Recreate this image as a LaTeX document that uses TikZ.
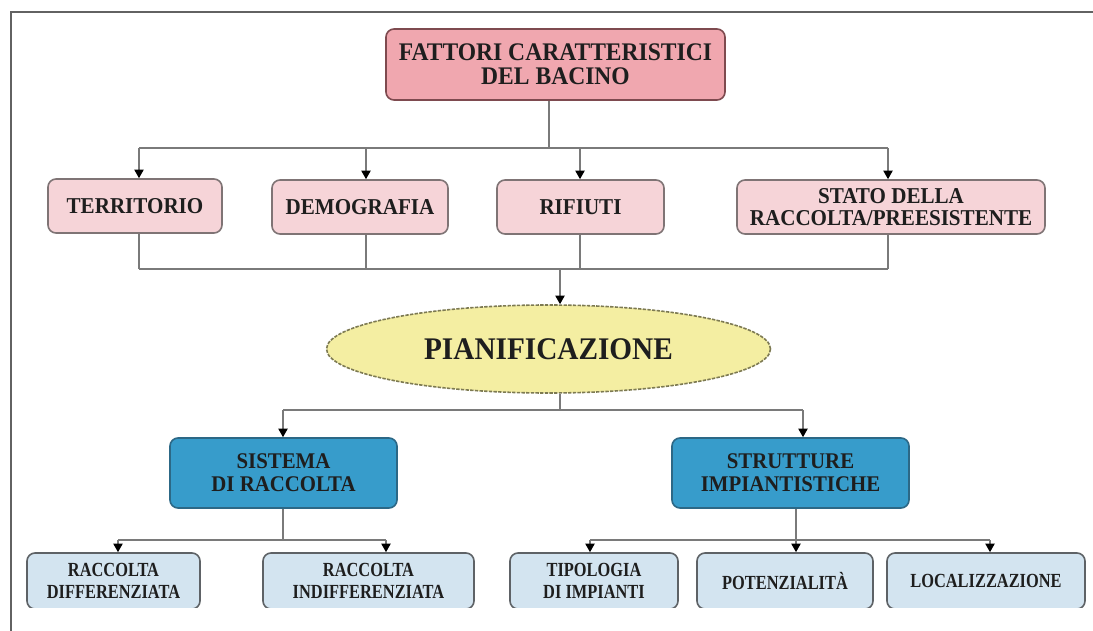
\documentclass[tikz,border=0pt]{standalone}
\usepackage{fontspec}
\setmainfont{Liberation Serif}[FakeStretch=0.93]
\newfontfamily\condfont{Liberation Serif}[FakeStretch=0.82]
\usetikzlibrary{shapes.geometric,arrows.meta}
\definecolor{txt}{HTML}{1E1E1E}
\definecolor{linec}{HTML}{7A7A7A}
\definecolor{topfill}{HTML}{F0A7AF}
\definecolor{topdraw}{HTML}{7E4A4F}
\definecolor{pinkfill}{HTML}{F6D4D8}
\definecolor{pinkdraw}{HTML}{7F7475}
\definecolor{ellfill}{HTML}{F4EEA2}
\definecolor{elldraw}{HTML}{7D7A52}
\definecolor{bluefill}{HTML}{379CCB}
\definecolor{bluedraw}{HTML}{2C6886}
\definecolor{lbfill}{HTML}{D3E4F0}
\definecolor{lbdraw}{HTML}{5E6266}
\tikzset{
  base/.style={rectangle, rounded corners=6pt, align=center, text=txt, inner sep=0pt, line width=1.2pt, font=\bfseries},
  topbox/.style={base, fill=topfill, draw=topdraw, font=\bfseries\fontsize{19}{18}\selectfont},
  pinkbox/.style={base, fill=pinkfill, draw=pinkdraw, font=\bfseries\fontsize{17}{17}\selectfont},
  ellbox/.style={ellipse, fill=ellfill, draw=elldraw, line width=1.2pt, dash pattern=on 2.5pt off 1pt, text=txt, inner sep=0pt, font=\bfseries\fontsize{23.6}{24}\selectfont},
  bluebox/.style={base, fill=bluefill, draw=bluedraw, font=\bfseries\fontsize{16.8}{17.5}\selectfont},
  lbbox/.style={base, fill=lbfill, draw=lbdraw, font=\condfont\bfseries\fontsize{15}{16.5}\selectfont},
  conn/.style={draw=linec, line width=1.1pt},
  arr/.style={conn, -{Triangle[width=7pt,length=6.5pt,color=black]}},
}
\begin{document}
\begin{tikzpicture}[x=0.75pt,y=-0.75pt]
\useasboundingbox (0,0) rectangle (1093,631);
% frame
\draw[draw=linec!80!black, line width=1pt] (11,631) -- (11,12) -- (1093,12);
% top
\node[topbox, minimum width=254.25pt, minimum height=53.25pt] (top) at (555.5,64.5) {FATTORI CARATTERISTICI\\DEL BACINO};
% row 2
\node[pinkbox, minimum width=130.5pt, minimum height=40.5pt] (terr) at (135,206) {TERRITORIO};
\node[pinkbox, minimum width=132pt, minimum height=40.5pt] (demo) at (360,207) {DEMOGRAFIA};
\node[pinkbox, minimum width=125.25pt, minimum height=40.5pt] (rif) at (580.5,207) {RIFIUTI};
\node[pinkbox, minimum width=231pt, minimum height=40.5pt] (stato) at (891,207) {STATO DELLA\\RACCOLTA/PREESISTENTE};
% ellipse
\node[ellbox, minimum width=333pt, minimum height=66pt] (pian) at (548.5,349) {PIANIFICAZIONE};
% blue
\node[bluebox, minimum width=170.25pt, minimum height=52.5pt] (sis) at (283.5,473) {SISTEMA\\DI RACCOLTA};
\node[bluebox, minimum width=177.75pt, minimum height=52.5pt] (str) at (790.5,473) {STRUTTURE\\IMPIANTISTICHE};
% bottom row, clipped
\begin{scope}
\clip (0,0) rectangle (1093,607);
\node[lbbox, minimum width=129.75pt, minimum height=42pt] (rd) at (113.5,581) {RACCOLTA\\DIFFERENZIATA};
\node[lbbox, minimum width=158.25pt, minimum height=42pt] (ri) at (368.5,581) {RACCOLTA\\INDIFFERENZIATA};
\node[lbbox, minimum width=126pt, minimum height=42pt] (tip) at (594,581) {TIPOLOGIA\\DI IMPIANTI};
\node[lbbox, minimum width=132pt, minimum height=42pt] (pot) at (785,581) {POTENZIALITÀ};
\node[lbbox, minimum width=148.5pt, minimum height=42pt] (loc) at (986,581) {LOCALIZZAZIONE};
\end{scope}
% connectors level 1
\coordinate (s0) at (549,148);
\coordinate (x1) at (139,148);
\coordinate (x2) at (366,148);
\coordinate (x3) at (580,148);
\coordinate (x4) at (888,148);
\draw[conn] (top.south -| s0) -- (s0);
\draw[conn] (x1) -- (x4);
\draw[arr] (x1) -- (x1 |- terr.north);
\draw[arr] (x2) -- (x2 |- demo.north);
\draw[arr] (x3) -- (x3 |- rif.north);
\draw[arr] (x4) -- (x4 |- stato.north);
% level 2
\coordinate (y1) at (139,269);
\coordinate (y2) at (366,269);
\coordinate (y3) at (580,269);
\coordinate (y4) at (888,269);
\coordinate (p0) at (560,269);
\draw[conn] (y1 |- terr.south) -- (y1);
\draw[conn] (y2 |- demo.south) -- (y2);
\draw[conn] (y3 |- rif.south) -- (y3);
\draw[conn] (y4 |- stato.south) -- (y4);
\draw[conn] (y1) -- (y4);
\draw[arr] (p0) -- (p0 |- pian.north);
% level 3
\coordinate (q0) at (560,410);
\coordinate (q1) at (283,410);
\coordinate (q2) at (803,410);
\draw[conn] (q0 |- pian.south) -- (q0);
\draw[conn] (q1) -- (q2);
\draw[arr] (q1) -- (q1 |- sis.north);
\draw[arr] (q2) -- (q2 |- str.north);
% level 4
\coordinate (r0) at (283,540);
\coordinate (r1) at (118,540);
\coordinate (r2) at (386,540);
\coordinate (t0) at (796,540);
\coordinate (t1) at (590,540);
\coordinate (t3) at (990,540);
\draw[conn] (r0 |- sis.south) -- (r0);
\draw[conn] (r1) -- (r2);
\draw[arr] (r1) -- (r1 |- rd.north);
\draw[arr] (r2) -- (r2 |- ri.north);
\draw[conn] (t0 |- str.south) -- (t0);
\draw[conn] (t1) -- (t3);
\draw[arr] (t1) -- (t1 |- tip.north);
\draw[arr] (t0) -- (t0 |- pot.north);
\draw[arr] (t3) -- (t3 |- loc.north);
\end{tikzpicture}
\end{document}
